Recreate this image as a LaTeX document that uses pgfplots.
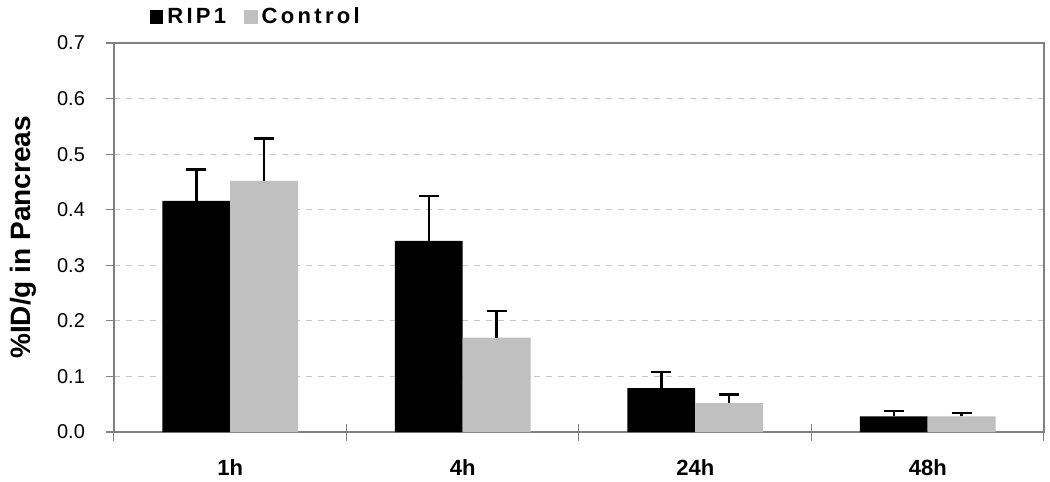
\documentclass[border=0pt]{standalone}
\usepackage{pgfplots}
\pgfplotsset{compat=1.18}
\usepackage{fontspec}
\setmainfont{Liberation Sans}
\newfontfamily\legfont[LetterSpace=15]{Liberation Sans}
\definecolor{ctrl}{HTML}{C0C0C0}
\definecolor{frame}{HTML}{808080}

\begin{document}
\begin{tikzpicture}
\useasboundingbox (-57pt,-25pt) rectangle (468pt,216pt);
\begin{axis}[
    scale only axis,
    width=465pt, height=194.5pt,
    ybar=0pt,
    bar width=0.292,
    xmin=-0.5, xmax=3.5,
    ymin=0, ymax=0.7,
    xtick={-0.5,0.5,1.5,2.5,3.5},
    xticklabels={},
    xtick style={draw=frame, line width=0.5pt, yshift=4pt},
    extra x ticks={0,1,2,3},
    extra x tick labels={1h,4h,24h,48h},
    extra x tick style={major tick length=0pt},
    ytick={0,0.1,...,0.7},
    xtick pos=bottom, ytick pos=left,
    tick align=outside,
    major tick length=8.5pt,
    ytick style={draw=frame, line width=0.6pt, xscale=0.47},
    axis line style={frame, line width=1pt},
    ymajorgrids,
    grid style={dashed, gray!45, line width=0.6pt},
    yticklabel style={font=\fontsize{10}{12}\selectfont, xshift=-2.5pt},
    xticklabel style={font=\fontsize{11}{12}\selectfont\bfseries, yshift=-10pt},
    /pgf/number format/.cd, fixed, fixed zerofill, precision=1, assume math mode=true,
    /pgfplots/.cd,
    every axis y label/.style={at={(axis description cs:-0.097,0.5)}, rotate=90, anchor=center},
    ylabel={\fontsize{14}{16}\selectfont\bfseries \%ID/g in Pancreas},
    legend columns=2,
    legend style={draw=none, fill=none, at={(axis description cs:0.038,1.067)}, anchor=west,
        font=\fontsize{11}{12}\selectfont\bfseries\legfont, inner sep=0pt,
        /tikz/every even column/.append style={column sep=7pt}},
    enlarge x limits=false,
]
\addplot[fill=black, draw=none,
    legend image code/.code={\fill[black] (0pt,-3.4pt) rectangle (6.8pt,3.4pt);},
    error bars/.cd, y dir=plus, y explicit,
    error bar style={line width=1.3pt, black},
    error mark options={rotate=90, mark size=5pt, line width=1.3pt, black}]
coordinates {
    (0,0.416) +- (0,0.056)
    (1,0.344) +- (0,0.081)
    (2,0.079) +- (0,0.029)
    (3,0.028) +- (0,0.010)
};
\addplot[fill=ctrl, draw=none,
    legend image code/.code={\fill[ctrl] (0pt,-3.4pt) rectangle (6.8pt,3.4pt);},
    error bars/.cd, y dir=plus, y explicit,
    error bar style={line width=1.3pt, black},
    error mark options={rotate=90, mark size=5pt, line width=1.3pt, black}]
coordinates {
    (0,0.452) +- (0,0.076)
    (1,0.170) +- (0,0.048)
    (2,0.052) +- (0,0.016)
    (3,0.028) +- (0,0.006)
};
\legend{RIP1,Control}
\end{axis}
\end{tikzpicture}
\end{document}
